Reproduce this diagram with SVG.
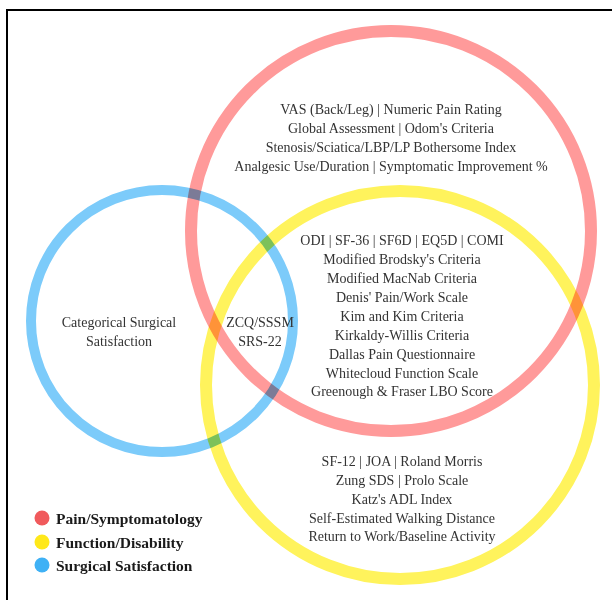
<svg xmlns="http://www.w3.org/2000/svg" width="612" height="600" viewBox="0 0 612 600">
<style>
.ring{fill:none;mix-blend-mode:multiply}
.t{font-family:"Liberation Serif","Times New Roman",serif;font-size:14px;fill:#333333;text-anchor:middle}
.lg{font-family:"Liberation Serif","Times New Roman",serif;font-size:15.5px;font-weight:bold;fill:#1a1a1a}
</style>
<rect x="0" y="0" width="612" height="600" fill="#ffffff"/>
<rect x="7" y="10" width="630" height="630" fill="none" stroke="#000" stroke-width="2"/>
<g id="connectors"></g>
<g id="circles" style="isolation:isolate">
<circle id="pain" class="ring" cx="391" cy="231" r="200" stroke="#ff9a9a" stroke-width="12"/>
<circle id="function" class="ring" cx="400" cy="385" r="194" stroke="#fff35c" stroke-width="12"/>
<circle id="satisfaction" class="ring" cx="162" cy="321" r="131" stroke="#7ccbfa" stroke-width="10"/>
</g>
<g id="pain-only">
<text class="t" x="391" y="114">VAS (Back/Leg) | Numeric Pain Rating</text>
<text class="t" x="391" y="133">Global Assessment | Odom's Criteria</text>
<text class="t" x="391" y="152">Stenosis/Sciatica/LBP/LP Bothersome Index</text>
<text class="t" x="391" y="171">Analgesic Use/Duration | Symptomatic Improvement %</text>
</g>
<g id="pain-function">
<text class="t" x="402" y="245">ODI | SF-36 | SF6D | EQ5D | COMI</text>
<text class="t" x="402" y="264">Modified Brodsky's Criteria</text>
<text class="t" x="402" y="283">Modified MacNab Criteria</text>
<text class="t" x="402" y="302">Denis' Pain/Work Scale</text>
<text class="t" x="402" y="321">Kim and Kim Criteria</text>
<text class="t" x="402" y="339.5">Kirkaldy-Willis Criteria</text>
<text class="t" x="402" y="358.5">Dallas Pain Questionnaire</text>
<text class="t" x="402" y="377.5">Whitecloud Function Scale</text>
<text class="t" x="402" y="396">Greenough &amp; Fraser LBO Score</text>
</g>
<g id="satisfaction-only">
<text class="t" x="119" y="327">Categorical Surgical</text>
<text class="t" x="119" y="346">Satisfaction</text>
</g>
<g id="all-three">
<text class="t" x="260" y="327">ZCQ/SSSM</text>
<text class="t" x="260" y="346">SRS-22</text>
</g>
<g id="function-only">
<text class="t" x="402" y="465.5">SF-12 | JOA | Roland Morris</text>
<text class="t" x="402" y="484.5">Zung SDS | Prolo Scale</text>
<text class="t" x="402" y="503.5">Katz's ADL Index</text>
<text class="t" x="402" y="522.5">Self-Estimated Walking Distance</text>
<text class="t" x="402" y="541">Return to Work/Baseline Activity</text>
</g>
<g id="legend">
<circle cx="42" cy="518" r="7.5" fill="#f05a5c"/>
<text class="lg" x="56" y="523.5">Pain/Symptomatology</text>
<circle cx="42" cy="542" r="7.5" fill="#ffe81a"/>
<text class="lg" x="56" y="547.5">Function/Disability</text>
<circle cx="42" cy="565" r="7.5" fill="#3fb1f5"/>
<text class="lg" x="56" y="570.5">Surgical Satisfaction</text>
</g>
</svg>
